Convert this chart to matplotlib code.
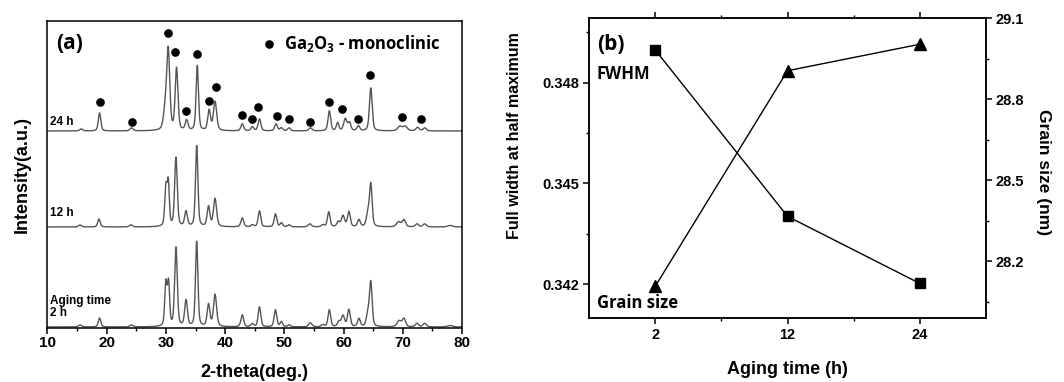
import numpy as np
import matplotlib.pyplot as plt
from matplotlib.ticker import MultipleLocator, FixedLocator

plt.rcParams['mathtext.fontset'] = 'custom'
plt.rcParams['mathtext.rm'] = 'Open Sans:bold'
plt.rcParams['mathtext.bf'] = 'Open Sans:bold'

# ---- (a) XRD peak lists: position (deg), height (a.u.), width (deg) ----
two_theta = np.linspace(10, 80, 3500)

pos_2h = [15.5, 18.8, 24.2, 30.0, 30.45, 31.7, 33.4, 35.2, 37.2, 38.3, 42.9, 44.6, 45.8,
          48.5, 49.5, 50.8, 54.4, 56.5, 57.6, 59.2, 59.9, 60.9, 62.6, 64.1, 64.6,
          69.4, 70.2, 72.4, 73.7, 78.0]
hgt_2h = [2, 9, 2, 43, 42, 79, 26, 85, 22, 32, 12, 3, 20,
          17, 5, 2, 4, 2, 17, 5, 11, 17, 8, 12, 44,
          6, 8, 3.5, 3.5, 1.5]
wid_2h = [0.6, 0.5, 0.6, 0.45, 0.42, 0.52, 0.55, 0.48, 0.55, 0.62, 0.55, 0.55, 0.52,
          0.52, 0.5, 0.55, 0.65, 0.6, 0.52, 0.55, 0.65, 0.55, 0.55, 0.6, 0.52,
          0.85, 0.65, 0.65, 0.7, 1.0]

pos_12h = [15.5, 18.7, 24.1, 30.0, 30.4, 31.7, 33.4, 35.2, 37.2, 38.3, 42.9, 44.6, 45.8,
           48.5, 49.5, 50.8, 54.3, 56.5, 57.5, 59.1, 59.9, 60.9, 62.6, 64.1, 64.6,
           69.3, 70.2, 72.4, 73.7, 78.0]
hgt_12h = [2, 8, 2, 38, 42, 69, 15, 81, 20, 28, 9, 2, 16,
           13, 4, 2, 3, 2, 15, 5, 11, 15, 7, 12, 42,
           5, 7, 3, 3, 1.5]
wid_12h = wid_2h

pos_24h = [15.7, 18.8, 24.2, 29.9, 30.4, 31.8, 33.5, 35.3, 37.3, 38.3, 42.9, 44.6, 45.8,
           48.6, 49.5, 50.8, 54.4, 57.6, 59.0, 60.3, 61.0, 62.5, 64.6,
           69.5, 70.4, 72.5, 73.7]
hgt_24h = [2, 18, 3, 20, 78, 62, 10, 65, 20, 29, 7, 4, 12,
           7, 3, 3, 3, 20, 8, 12, 8, 5, 43,
           4.5, 4.5, 3.5, 3]
wid_24h = [0.6, 0.5, 0.6, 0.7, 0.6, 0.55, 0.55, 0.48, 0.55, 0.65, 0.55, 0.55, 0.55,
           0.55, 0.55, 0.55, 0.65, 0.52, 0.5, 0.65, 0.55, 0.55, 0.55,
           0.85, 0.85, 0.65, 0.65]

offsets = [1, 101, 197]
sample_labels = ['Aging time\n2 h', '12 h', '24 h']
label_y = [21, 115, 206]

# Ga2O3 monoclinic marks (24 h pattern)
dot_x = [18.9, 24.2, 30.3, 31.6, 33.4, 35.2, 37.2, 38.4, 42.8, 44.5, 45.6, 48.7,
         50.8, 54.4, 57.5, 59.7, 62.4, 64.5, 69.9, 73.1]
dot_y = [226, 206, 295, 276, 217, 274, 227, 241, 213, 209, 221, 212,
         209, 206, 226, 219, 209, 253, 211, 209]

# ---- (b) FWHM and grain size ----
aging = ['2', '12', '24']
fwhm = [0.34898, 0.34402, 0.34202]
grain = [28.107, 28.905, 29.003]


def pattern(pos, hgt, wid):
    y = np.zeros_like(two_theta)
    for p, h, w in zip(pos, hgt, wid):
        g = np.exp(-4 * np.log(2) * ((two_theta - p) / w) ** 2)
        lo = 1 / (1 + 4 * ((two_theta - p) / w) ** 2)
        y += h * (0.6 * g + 0.4 * lo)
    return y


tick_font = {'family': 'Liberation Sans', 'weight': 'bold'}
ann_font = {'family': 'Open Sans', 'weight': 'bold'}

fig = plt.figure(figsize=(10.64, 3.82), dpi=100)

# ---------------- panel (a) ----------------
ax1 = fig.add_axes([0.0446, 0.1414, 0.3896, 0.8037])
for (pos, hgt, wid), off in zip([(pos_2h, hgt_2h, wid_2h), (pos_12h, hgt_12h, wid_12h),
                                  (pos_24h, hgt_24h, wid_24h)], offsets):
    ax1.plot(two_theta, pattern(pos, hgt, wid) + off, color='#555555', lw=1.0)

for lab, ly in zip(sample_labels, label_y):
    ax1.text(10.5, ly, lab, fontsize=8.5, va='center', ha='left', linespacing=1.05,
             **tick_font)

ax1.plot(dot_x, dot_y, 'o', color='black', ms=5.2)
ax1.plot([47.4], [284], 'o', color='black', ms=5.2)
ax1.text(49.9, 284, r'Ga$_2$O$_3$ - monoclinic', fontsize=12,
         va='center', ha='left', **ann_font)
ax1.text(11.4, 284, '(a)', fontsize=15, va='center', ha='left', **ann_font)

ax1.set_xlim(10, 80)
ax1.set_ylim(0, 307)
ax1.set_yticks([])
ax1.xaxis.set_major_locator(MultipleLocator(10))
ax1.xaxis.set_minor_locator(MultipleLocator(5))
ax1.tick_params(axis='x', which='major', direction='out', length=4, width=1.1, pad=2)
ax1.tick_params(axis='x', which='minor', direction='out', length=2.5, width=1.0)
for lab in ax1.get_xticklabels():
    lab.set_fontfamily('Liberation Sans')
    lab.set_fontweight('bold')
    lab.set_fontsize(11)
ax1.set_xlabel('2-theta(deg.)', fontsize=13, labelpad=10, **tick_font)
ax1.set_ylabel('Intensity(a.u.)', fontsize=13, labelpad=12, **tick_font)
for sp in ax1.spines.values():
    sp.set_linewidth(1.1)

# ---------------- panel (b) ----------------
ax2 = fig.add_axes([0.5536, 0.1675, 0.3731, 0.7853])
xi = np.arange(len(aging))
ax2.plot(xi, fwhm, '-s', color='black', lw=1.0, ms=7)
ax2.set_xlim(-0.5, 2.5)
ax2.set_ylim(0.34099, 0.34993)
ax2.set_xticks(xi)
ax2.set_xticklabels(aging)
ax2.xaxis.set_minor_locator(FixedLocator([0.5, 1.5]))
ax2.yaxis.set_major_locator(FixedLocator([0.342, 0.345, 0.348]))
ax2.yaxis.set_minor_locator(FixedLocator([0.3435, 0.3465, 0.3495]))
ax2.tick_params(axis='both', which='major', direction='out', length=4, width=1.1, pad=3,
                top=True)
ax2.tick_params(axis='both', which='minor', direction='out', length=2.5, width=1.0, top=True)
ax2.set_yticklabels(['0.342', '0.345', '0.348'])

ax3 = ax2.twinx()
ax3.plot(xi, grain, '-^', color='black', lw=1.0, ms=8)
ax3.set_ylim(27.99, 29.1)
ax3.yaxis.set_major_locator(FixedLocator([28.2, 28.5, 28.8, 29.1]))
ax3.yaxis.set_minor_locator(FixedLocator([28.05, 28.35, 28.65, 28.95]))
ax3.set_yticklabels(['28.2', '28.5', '28.8', '29.1'])
ax3.tick_params(axis='y', which='major', direction='out', length=4, width=1.1, pad=3)
ax3.tick_params(axis='y', which='minor', direction='out', length=2.5, width=1.0)

for ax in (ax2, ax3):
    for lab in ax.get_xticklabels() + ax.get_yticklabels():
        lab.set_fontfamily('Liberation Sans')
        lab.set_fontweight('bold')
        lab.set_fontsize(10.5)
    for sp in ax.spines.values():
        sp.set_linewidth(1.1)

ax2.set_xlabel('Aging time (h)', fontsize=13, labelpad=14, **tick_font)
fig.text(0.484, 0.645, 'Full width at half maximum', rotation=90, fontsize=11.5,
         ha='center', va='center', **tick_font)
fig.text(0.981, 0.55, 'Grain size (nm)', rotation=270, fontsize=12.5,
         ha='center', va='center', **tick_font)

ax2.text(-0.44, 0.34913, '(b)', fontsize=15, va='center', ha='left', **ann_font)
ax2.text(-0.44, 0.34827, 'FWHM', fontsize=12, va='center', ha='left', **ann_font)
ax2.text(-0.44, 0.34144, 'Grain size', fontsize=12, va='center', ha='left', **ann_font)

fig.savefig('out.png', dpi=100)
